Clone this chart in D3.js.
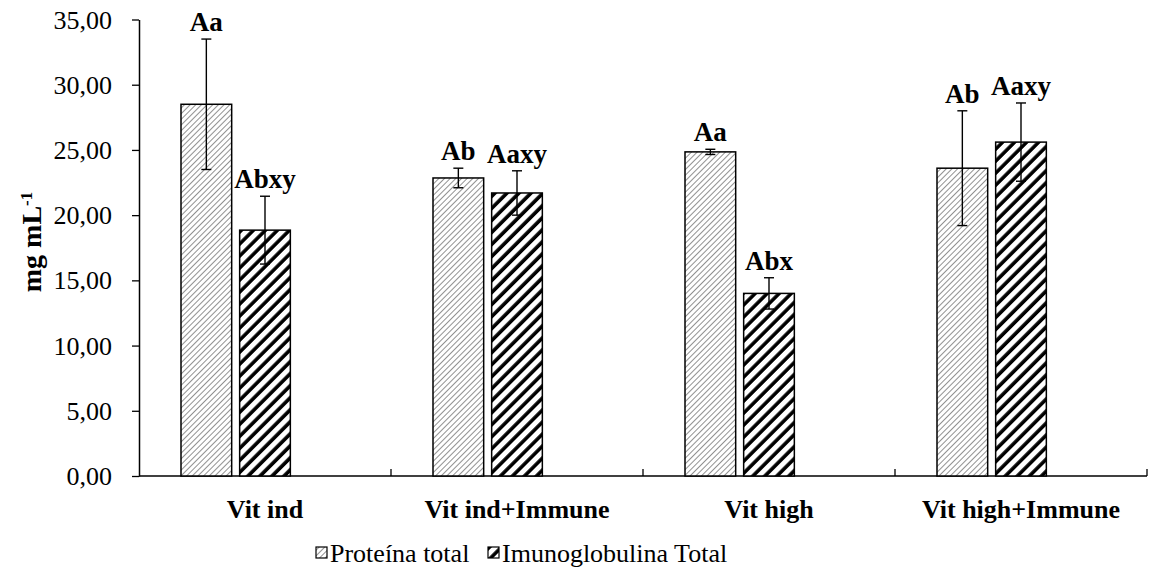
<!DOCTYPE html>
<html>
<head>
<meta charset="utf-8">
<script src="https://cdn.jsdelivr.net/npm/d3@7"></script>
<style>
  html, body { margin: 0; padding: 0; background: #fff; font-family: 'Liberation Serif'; }
  svg { display: block; font-family: 'Liberation Serif'; }
</style>
</head>
<body>
<svg id="chart" width="1156" height="582"></svg>
<script>
// ---- data ----
const categories = ["Vit ind", "Vit ind+Immune", "Vit high", "Vit high+Immune"];
const seriesNames = ["Proteína total", "Imunoglobulina Total"];
const proteinaValues = [28.5, 22.85, 24.85, 23.6];
const proteinaErrors = [5.0, 0.75, 0.2, 4.4];
const proteinaLabels = ["Aa", "Ab", "Aa", "Ab"];
const imunoValues = [18.85, 21.7, 14.0, 25.6];
const imunoErrors = [2.6, 1.7, 1.2, 3.0];
const imunoLabels = ["Abxy", "Aaxy", "Abx", "Aaxy"];
const yTicks = [0, 5, 10, 15, 20, 25, 30, 35];

(function () {
const FONT = "Liberation Serif";
// ---- layout ----
const svg = d3.select("#chart");
const mLeft = 139, mRight = 1147, mTop = 19.5, mBottom = 476;

const x0 = d3.scaleBand().domain(categories).range([mLeft, mRight]).padding(0);
const slots = [...seriesNames, "__empty__"]; // Excel-style cluster with an empty third slot
const pad = 42;
const x1 = d3.scaleBand().domain(slots)
  .range([pad, x0.bandwidth() - pad]).paddingInner(0.136).paddingOuter(0);
const y = d3.scaleLinear().domain([0, 35]).range([mBottom, mTop]);

// ---- patterns ----
const defs = svg.append("defs");
const pf = defs.append("pattern").attr("id", "fine").attr("patternUnits", "userSpaceOnUse")
  .attr("width", 4).attr("height", 4).attr("patternTransform", "rotate(45)");
pf.append("rect").attr("width", 4).attr("height", 4).attr("fill", "#fff");
pf.append("line").attr("x1", 0).attr("y1", 0).attr("x2", 0).attr("y2", 4)
  .attr("stroke", "#555").attr("stroke-width", 1.3);

const pw = defs.append("pattern").attr("id", "wide").attr("patternUnits", "userSpaceOnUse")
  .attr("width", 8.5).attr("height", 8.5).attr("patternTransform", "rotate(45)");
pw.append("rect").attr("width", 8.5).attr("height", 8.5).attr("fill", "#fff");
pw.append("line").attr("x1", 2).attr("y1", 0).attr("x2", 2).attr("y2", 8.5)
  .attr("stroke", "#000").attr("stroke-width", 3.6);

const fills = ["url(#fine)", "url(#wide)"];
const series = [
  { name: seriesNames[0], values: proteinaValues, errors: proteinaErrors, labels: proteinaLabels },
  { name: seriesNames[1], values: imunoValues, errors: imunoErrors, labels: imunoLabels }
];

// ---- axes ----
const yAxis = d3.axisLeft(y).tickValues(yTicks).tickSize(7).tickSizeOuter(0)
  .tickFormat(d => d3.format(".2f")(d).replace(".", ","));
const gy = svg.append("g").attr("transform", `translate(${mLeft},0)`).call(yAxis)
  .attr("font-family", FONT).attr("font-size", 26);
gy.select(".domain").attr("stroke", "#000").attr("stroke-width", 1.5);
gy.selectAll(".tick line").attr("stroke", "#000").attr("stroke-width", 1.3);
gy.selectAll(".tick text").attr("font-family", FONT).attr("font-size", 26).attr("fill", "#000")
  .attr("x", -27).attr("dy", "0.33em");

// x axis line with ticks at category boundaries
const gx = svg.append("g").attr("font-family", FONT);
gx.append("line").attr("x1", mLeft).attr("x2", mRight).attr("y1", mBottom).attr("y2", mBottom)
  .attr("stroke", "#000").attr("stroke-width", 1.5);
const boundaries = categories.map(c => x0(c) + x0.bandwidth());
gx.selectAll("line.tk").data(boundaries).join("line").attr("class", "tk")
  .attr("x1", d => d).attr("x2", d => d).attr("y1", mBottom).attr("y2", mBottom - 7)
  .attr("stroke", "#000").attr("stroke-width", 1.3);
gx.selectAll("text").data(categories).join("text")
  .attr("x", d => x0(d) + x0.bandwidth() / 2).attr("y", 518)
  .attr("font-family", FONT)
  .attr("text-anchor", "middle").attr("font-size", 26).attr("font-weight", "bold")
  .text(d => d);

// ---- bars ----
series.forEach((s, si) => {
  const g = svg.append("g").attr("font-family", FONT);
  categories.forEach((c, i) => {
    const bx = x0(c) + x1(s.name);
    const bw = x1.bandwidth();
    const v = s.values[i], e = s.errors[i];
    g.append("rect").attr("x", bx).attr("y", y(v)).attr("width", bw).attr("height", y(0) - y(v))
      .attr("fill", fills[si]).attr("stroke", "#000").attr("stroke-width", 1.5);
    const cx = bx + bw / 2;
    g.append("line").attr("x1", cx).attr("x2", cx).attr("y1", y(v + e)).attr("y2", y(v - e))
      .attr("stroke", "#000").attr("stroke-width", 1.4);
    [v + e, v - e].forEach(t => {
      g.append("line").attr("x1", cx - 5).attr("x2", cx + 5).attr("y1", y(t)).attr("y2", y(t))
        .attr("stroke", "#000").attr("stroke-width", 1.4);
    });
    g.append("text").attr("x", cx).attr("y", y(v + e) - 8).attr("text-anchor", "middle")
      .attr("font-family", FONT)
      .attr("font-size", 27).attr("font-weight", "bold").text(s.labels[i]);
  });
});

// ---- y label ----
const yl = svg.append("text").attr("transform", "translate(41,242) rotate(-90)")
  .attr("font-family", FONT)
  .attr("text-anchor", "middle").attr("font-size", 28).attr("font-weight", "bold");
yl.append("tspan").text("mg mL");
yl.append("tspan").attr("baseline-shift", "super").attr("font-size", 17).text("-1");

// ---- legend ----
const legendX = [316, 488];
const lg = svg.append("g").attr("font-family", FONT);
series.forEach((s, si) => {
  lg.append("rect").attr("x", legendX[si]).attr("y", 547).attr("width", 11).attr("height", 11)
    .attr("fill", fills[si]).attr("stroke", "#000").attr("stroke-width", 1.2);
  lg.append("text").attr("x", legendX[si] + 14).attr("y", 562).attr("font-size", 26)
    .attr("font-family", FONT).text(s.name);
});
})();
</script>
</body>
</html>
